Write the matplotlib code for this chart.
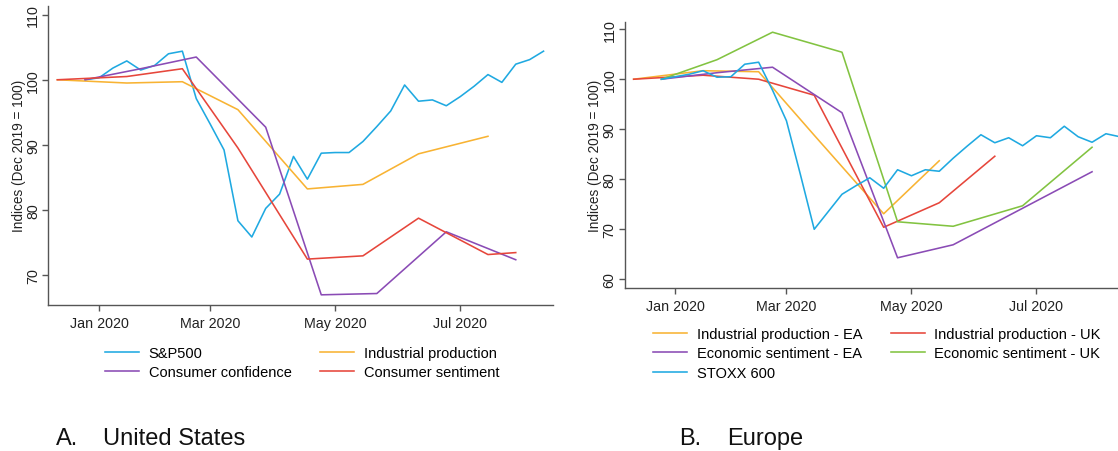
import matplotlib
matplotlib.use("Agg")
import matplotlib.pyplot as plt

plt.rcParams['font.family'] = ['Liberation Sans', 'DejaVu Sans']

# x positions are Stata weekly dates: week number of 2020 (week 1 = Jan 2020)
tick_weeks = [1, 9, 18, 27]
tick_labels = ["Jan 2020", "Mar 2020", "May 2020", "Jul 2020"]

# ---- United States ----
us_week_wk = list(range(0, 34))
sp500 = [100.0, 100.3, 101.8, 102.9, 101.5, 102.2, 104.0, 104.4, 97.1, 93.2,
         89.2, 78.3, 75.8, 80.2, 82.4, 88.2, 84.7, 88.7, 88.8, 88.8,
         90.5, 92.8, 95.2, 99.2, 96.7, 96.9, 96.0, 97.4, 99.0, 100.8,
         99.6, 102.4, 103.1, 104.4]

us_ip_wk = [-2, 3, 7, 11, 16, 20, 24, 29]
us_ip = [100.0, 99.5, 99.7, 95.4, 83.2, 83.9, 88.6, 91.3]

us_cc_wk = [0, 4, 8, 13, 17, 21, 26, 31]
us_cc = [100.0, 101.7, 103.5, 92.7, 66.9, 67.1, 76.6, 72.3]

us_cs_wk = [-2, 3, 7, 11, 16, 20, 24, 29, 31]
us_cs = [100.0, 100.5, 101.7, 89.5, 72.4, 72.9, 78.7, 73.1, 73.4]

# ---- Europe ----
eu_week_wk = list(range(0, 34))
stoxx = [100.0, 100.5, 101.0, 101.7, 100.4, 100.5, 103.0, 103.4, 97.8, 91.7,
         81.0, 70.0, 73.5, 77.0, 78.7, 80.3, 78.2, 81.9, 80.7, 81.9,
         81.6, 84.2, 86.6, 88.9, 87.3, 88.3, 86.7, 88.7, 88.3, 90.6,
         88.5, 87.4, 89.1, 88.5]

ip_ea_wk = [-2, 3, 7, 11, 16, 20]
ip_ea = [100.0, 101.7, 101.5, 88.8, 73.1, 83.7]

ip_uk_wk = [-2, 3, 7, 11, 16, 20, 24]
ip_uk = [100.0, 100.8, 100.0, 96.8, 70.4, 75.3, 84.6]

es_ea_wk = [0, 4, 8, 13, 17, 21, 26, 31]
es_ea = [100.0, 101.3, 102.4, 93.3, 64.3, 66.9, 74.2, 81.5]

es_uk_wk = [0, 4, 8, 13, 17, 21, 26, 31]
es_uk = [100.0, 103.9, 109.4, 105.4, 71.5, 70.6, 74.7, 86.4]

BLUE = "#1fa9e1"
ORANGE = "#f8b333"
PURPLE = "#8a4bb5"
RED = "#e6463b"
GREEN = "#82c341"
AXC = "#555555"

W, H = 1118, 452
fig = plt.figure(figsize=(W / 100, H / 100), dpi=100)

def px_axes(l, t, r, b):
    return fig.add_axes([l / W, 1 - b / H, (r - l) / W, (b - t) / H])

def style(ax, yticks, ylim):
    for s in ["top", "right"]:
        ax.spines[s].set_visible(False)
    for s in ["left", "bottom"]:
        ax.spines[s].set_color(AXC)
        ax.spines[s].set_linewidth(1.0)
    ax.set_xlim(-2.65, 33.66)
    ax.set_ylim(*ylim)
    ax.set_xticks(tick_weeks)
    ax.set_xticklabels(tick_labels)
    ax.set_yticks(yticks)
    ax.set_yticklabels([str(v) for v in yticks], rotation=90, va="center")
    ax.tick_params(axis="both", direction="out", length=4.3, width=1.0,
                   color=AXC, labelsize=10.3, labelcolor="#222222")
    ax.tick_params(axis="x", pad=3.5)
    ax.tick_params(axis="y", pad=1.5)
    ax.set_ylabel("Indices (Dec 2019 = 100)", fontsize=9.8, color="#222222",
                  labelpad=0.5)

lw = 1.15
leg_kw = dict(frameon=False, ncol=2, fontsize=10.5, handlelength=2.33,
              handletextpad=0.66, columnspacing=1.95, labelspacing=0.37,
              borderpad=0, borderaxespad=0, loc="upper left")

# panel A
ax1 = px_axes(48.3, 6.7, 552.7, 305.7)
l_sp, = ax1.plot(us_week_wk, sp500, color=BLUE, lw=lw, label="S&P500")
l_ip, = ax1.plot(us_ip_wk, us_ip, color=ORANGE, lw=lw, label="Industrial production")
l_cc, = ax1.plot(us_cc_wk, us_cc, color=PURPLE, lw=lw, label="Consumer confidence")
l_cs, = ax1.plot(us_cs_wk, us_cs, color=RED, lw=lw, label="Consumer sentiment")
style(ax1, [70, 80, 90, 100, 110], (65.38, 111.4))
ax1.legend(handles=[l_sp, l_cc, l_ip, l_cs],
           bbox_to_anchor=(105 / W, 1 - 347 / H), bbox_transform=fig.transFigure,
           **leg_kw)

# panel B
ax2 = px_axes(624.6, 22.7, 1129.0, 289.3)
r_ipea, = ax2.plot(ip_ea_wk, ip_ea, color=ORANGE, lw=lw, label="Industrial production - EA")
r_ipuk, = ax2.plot(ip_uk_wk, ip_uk, color=RED, lw=lw, label="Industrial production - UK")
r_esea, = ax2.plot(es_ea_wk, es_ea, color=PURPLE, lw=lw, label="Economic sentiment - EA")
r_esuk, = ax2.plot(es_uk_wk, es_uk, color=GREEN, lw=lw, label="Economic sentiment - UK")
r_stx, = ax2.plot(eu_week_wk, stoxx, color=BLUE, lw=lw, label="STOXX 600")
style(ax2, [60, 70, 80, 90, 100, 110], (58.2, 111.5))
ax2.legend(handles=[r_ipea, r_esea, r_stx, r_ipuk, r_esuk],
           bbox_to_anchor=(653 / W, 1 - 328 / H), bbox_transform=fig.transFigure,
           **leg_kw)

# panel titles
fig.text(56 / W, 1 - 439 / H, "A.", fontsize=17, va="center", color="#111111")
fig.text(103 / W, 1 - 439 / H, "United States", fontsize=17, va="center", color="#111111")
fig.text(679 / W, 1 - 439 / H, "B.", fontsize=17, va="center", color="#111111")
fig.text(727 / W, 1 - 439 / H, "Europe", fontsize=17, va="center", color="#111111")

fig.savefig("out.png", dpi=100)
